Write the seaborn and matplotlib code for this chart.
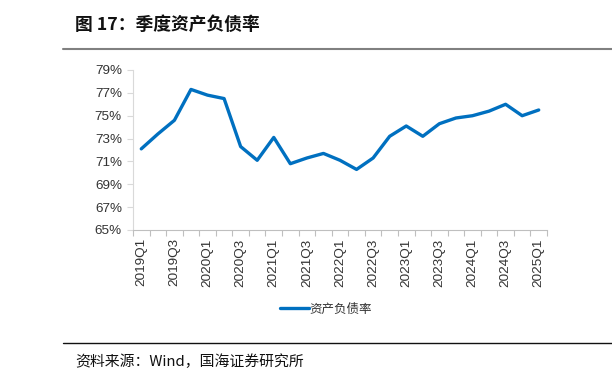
import matplotlib
matplotlib.use("Agg")
import matplotlib.pyplot as plt
from matplotlib.lines import Line2D
from matplotlib.ticker import FixedLocator, FuncFormatter
import seaborn as sns
import pandas as pd

quarters = [f"{y}Q{q}" for y in range(2019, 2025) for q in range(1, 5)] + ["2025Q1"]
debt_ratio = [72.1, 73.4, 74.6, 77.3, 76.8, 76.5, 72.3, 71.1, 73.1, 70.8,
              71.3, 71.7, 71.1, 70.3, 71.3, 73.2, 74.1, 73.2, 74.3, 74.8,
              75.0, 75.4, 76.0, 75.0, 75.5]
series_name = "资产负债率"
title = "图 17：季度资产负债率"
source = "资料来源：Wind，国海证券研究所"
yticks = [65, 67, 69, 71, 73, 75, 77, 79]

df = pd.DataFrame({"quarter": quarters, "value": debt_ratio, "series": series_name})

sns.set_theme(style="white")
plt.rcParams['font.family'] = ['Liberation Sans', 'Noto Sans CJK SC', 'DejaVu Sans']

fig = plt.figure(figsize=(6.12, 3.79), dpi=100)
ax = fig.add_axes([133/612, 1-230/379, (547-133)/612, 160/379])

sns.lineplot(data=df, x="quarter", y="value", hue="series", palette=["#0070C0"],
             linewidth=2.4, ax=ax, sort=False)

ax.set_xlim(-0.5, len(quarters)-0.5)
ax.set_ylim(65, 79)
ax.set_yticks(yticks)
ax.yaxis.set_major_formatter(FuncFormatter(lambda v, p: f"{v:.0f}%"))
ax.set_xticks(range(0, len(quarters), 2))
ax.set_xticklabels(quarters[::2], rotation=90)
ax.xaxis.set_minor_locator(FixedLocator([i-0.5 for i in range(len(quarters)+1)]))
ax.tick_params(axis='x', which='major', length=0, pad=6, labelsize=9.7, colors='#333333')
ax.tick_params(axis='x', which='minor', length=4, color='#BFBFBF', width=0.8, bottom=True)
ax.tick_params(axis='y', length=4, color='#D9D9D9', width=0.8, left=True, labelsize=9.7,
               pad=4)
for lab in ax.get_yticklabels():
    lab.set_color('#333333')
ax.set_xlabel("")
ax.set_ylabel("")
for s in ["top", "right"]:
    ax.spines[s].set_visible(False)
ax.spines["left"].set_color("#D9D9D9")
ax.spines["bottom"].set_color("#BFBFBF")
ax.spines["left"].set_linewidth(0.8)
ax.spines["bottom"].set_linewidth(0.8)

leg = ax.legend(loc="center", bbox_to_anchor=(326/612, 1-309/379), bbox_transform=fig.transFigure,
                frameon=False, handlelength=2.3, handletextpad=0.1,
                prop={'family': ['Noto Sans CJK SC'], 'size': 9})
for t in leg.get_texts():
    t.set_color('#333333')

fig.text(75/612, 1-25/379, title, ha="left", va="center", fontsize=12.8,
         fontweight="bold", family=['Noto Sans CJK SC', 'DejaVu Sans'], color="#111111")
fig.add_artist(Line2D([63/612, 1.0], [1-49/379, 1-49/379], color="#808080", linewidth=1.5,
                      transform=fig.transFigure))
fig.add_artist(Line2D([63/612, 1.0], [1-343/379, 1-343/379], color="#111111", linewidth=1.0,
                      transform=fig.transFigure))
fig.text(75/612, 1-362/379, source, ha="left", va="center", fontsize=10.7,
         family=['Noto Sans CJK SC', 'DejaVu Sans'], color="#111111")

fig.savefig("out.png", dpi=100)
